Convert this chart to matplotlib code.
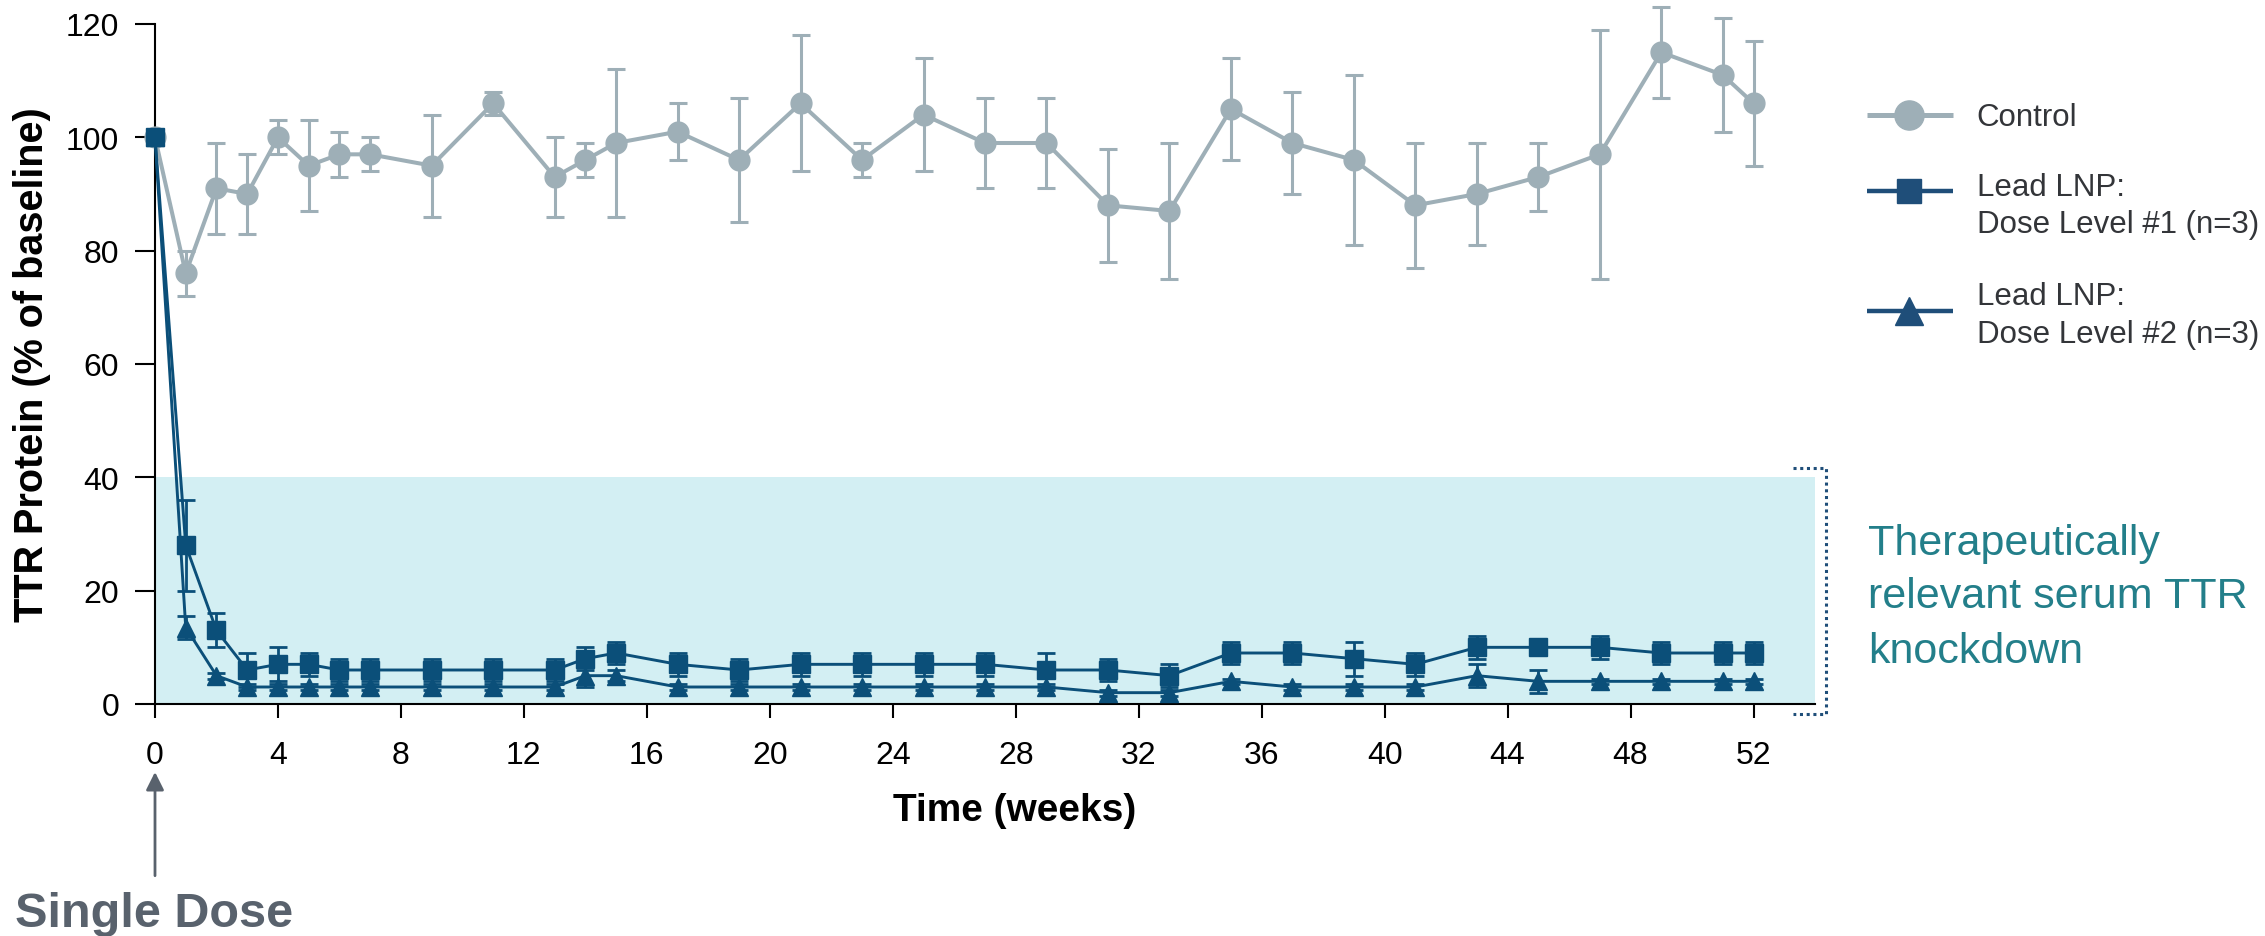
import matplotlib
matplotlib.use("Agg")
import matplotlib.pyplot as plt
from matplotlib.lines import Line2D

plt.rcParams['font.family'] = ['Liberation Sans', 'DejaVu Sans']

# ---------------- data ----------------
weeks = [0, 1, 2, 3, 4, 5, 6, 7, 9, 11, 13, 14, 15, 17, 19, 21, 23, 25, 27, 29,
         31, 33, 35, 37, 39, 41, 43, 45, 47, 49, 51, 52]

control_mean = [100, 76, 91, 90, 100, 95, 97, 97, 95, 106, 93, 96, 99, 101, 96, 106,
                96, 104, 99, 99, 88, 87, 105, 99, 96, 88, 90, 93, 97, 115, 111, 106]
control_err = [0, 4, 8, 7, 3, 8, 4, 3, 9, 2, 7, 3, 13, 5, 11, 12,
               3, 10, 8, 8, 10, 12, 9, 9, 15, 11, 9, 6, 22, 8, 10, 11]

dose1_mean = [100, 28, 13, 6, 7, 7, 6, 6, 6, 6, 6, 8, 9, 7, 6, 7,
              7, 7, 7, 6, 6, 5, 9, 9, 8, 7, 10, 10, 10, 9, 9, 9]
dose1_err = [0, 8, 3, 3, 3, 2, 2, 2, 2, 2, 2, 2, 2, 2, 2, 2,
             2, 2, 2, 3, 2, 2, 2, 2, 3, 2, 2, 0.5, 2, 2, 2, 2]

dose2_mean = [100, 13.5, 5, 3, 3, 3, 3, 3, 3, 3, 3, 5, 5, 3, 3, 3,
              3, 3, 3, 3, 2, 2, 4, 3, 3, 3, 5, 4, 4, 4, 4, 4]
dose2_err = [0, 2, 0.5, 0.5, 0.5, 0.5, 0.5, 0.5, 0.5, 0.5, 0.5, 2, 1, 0.5, 0.5, 0.5,
             0.5, 0.5, 0.5, 0.5, 0.5, 0.5, 0.5, 0.5, 0.5, 0.5, 2, 2, 0.5, 0.5, 0.5, 0.5]

xticks = list(range(0, 53, 4))
end_ticks = [0, 52]
yticks = [0, 20, 40, 60, 80, 100, 120]
legend_labels = [["Control"], ["Lead LNP:", "Dose Level #1 (n=3)"], ["Lead LNP:", "Dose Level #2 (n=3)"]]
band_range = (0, 40)
band_lines = ["Therapeutically", "relevant serum TTR", "knockdown"]

# ---------------- style ----------------
c_control = '#9eafb7'
c_dose = '#0b4f79'
c_leg_dose = '#1f4e79'
c_band = '#d3eff3'
c_teal = '#237f8a'
c_gray = '#59626d'
c_legtext = '#333539'

W, H, DPI = 2265, 937, 100
fig = plt.figure(figsize=(W / DPI, H / DPI), dpi=DPI)


def fx(px):
    return px / W


def fy(py):
    return 1 - py / H


ax_left, ax_right = 155, 1815
ax_top, ax_bottom = 25, 705
ax = fig.add_axes([fx(ax_left), fy(ax_bottom), (ax_right - ax_left) / W, (ax_bottom - ax_top) / H])
ax.set_xlim(0, 54)
ax.set_ylim(0, 120)

ax.axhspan(band_range[0], band_range[1], color=c_band, zorder=0, lw=0)

ax.errorbar(weeks, control_mean, yerr=control_err, color=c_control, lw=2.9, marker='o',
            ms=15, mec=c_control, mfc=c_control, elinewidth=2.2, capsize=6.7, capthick=2.2,
            zorder=3, clip_on=False)
ax.errorbar(weeks, dose2_mean, yerr=dose2_err, color=c_dose, lw=2.1, marker='^',
            ms=13, mec=c_dose, mfc=c_dose, elinewidth=2.0, capsize=6.7, capthick=2.0,
            zorder=4, clip_on=False)
ax.errorbar(weeks, dose1_mean, yerr=dose1_err, color=c_dose, lw=2.1, marker='s',
            ms=12.5, mec=c_dose, mfc=c_dose, elinewidth=2.0, capsize=6.7, capthick=2.0,
            zorder=5, clip_on=False)

for s in ['top', 'right']:
    ax.spines[s].set_visible(False)
for s in ['left', 'bottom']:
    ax.spines[s].set_linewidth(1.5)
    ax.spines[s].set_color('black')

ax.set_xticks(xticks)
ax.set_xticks(end_ticks, minor=True)
ax.set_yticks(yticks)
ax.tick_params(axis='x', which='major', length=10, width=1.5, labelsize=23, pad=16)
ax.tick_params(axis='x', which='minor', length=14.4, width=1.5)
ax.tick_params(axis='y', length=14.4, width=1.5, labelsize=23, pad=11.5)

# axis labels
fig.text(fx(42.7), fy(365), "TTR Protein (% of baseline)", rotation=90, rotation_mode='anchor',
         ha='center', va='baseline', fontsize=28.5, fontweight='bold')
fig.text(fx(1015), fy(821), "Time (weeks)", ha='center', va='baseline',
         fontsize=28, fontweight='bold')

# bracket around the band
bracket = Line2D([53.3, 54.36, 54.36, 53.3], [41.6, 41.6, -1.8, -1.8], color=c_leg_dose,
                 lw=2.2, ls=(0, (1, 1.2)), clip_on=False, transform=ax.transData)
ax.add_line(bracket)

for txt, base in zip(band_lines, [555, 608.3, 663.3]):
    fig.text(fx(1867.7), fy(base), txt, ha='left', va='baseline', fontsize=31, color=c_teal)

# single dose arrow
ax.annotate('', xy=(0, -12.0), xytext=(0, -30.3), xycoords='data',
            arrowprops=dict(arrowstyle='-|>', color=c_gray, lw=2.0, mutation_scale=27,
                            shrinkA=0, shrinkB=0),
            annotation_clip=False)
fig.text(fx(15), fy(926.7), "Single Dose", ha='left', va='baseline', fontsize=35,
         fontweight='bold', color=c_gray)

# legend (drawn manually for exact placement)
leg_specs = [
    dict(color=c_control, marker='o', ms=21, lw=3.6, y=115.7, bases=[126]),
    dict(color=c_leg_dose, marker='s', ms=17.5, lw=3.2, y=192.3, bases=[196, 233.3]),
    dict(color=c_leg_dose, marker='^', ms=20, lw=3.2, y=311.7, bases=[305, 342.7]),
]
for spec, labels in zip(leg_specs, legend_labels):
    fig.add_artist(Line2D([fx(1867), fx(1908.5), fx(1953)], [fy(spec['y'])] * 3,
                          transform=fig.transFigure, color=spec['color'], lw=spec['lw'],
                          marker=spec['marker'], ms=spec['ms'], mfc=spec['color'],
                          mec=spec['color'], markevery=[1], solid_capstyle='butt'))
    for lab, base in zip(labels, spec['bases']):
        fig.text(fx(1976.7), fy(base), lab, ha='left', va='baseline', fontsize=22.5,
                 color=c_legtext)

fig.savefig('out.png', dpi=DPI)
